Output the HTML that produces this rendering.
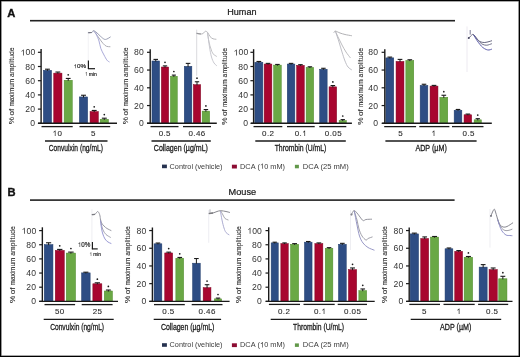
<!DOCTYPE html>
<html><head><meta charset="utf-8"><style>
html,body{margin:0;padding:0;background:#fff;width:520px;height:357px;overflow:hidden}
.frame{position:absolute;left:0;top:0;width:520px;height:357px;box-sizing:border-box;border:1px solid #000;box-shadow:inset 0 0 0 0.6px #555}
</style></head><body>
<svg width="520" height="357" viewBox="0 0 520 357" style="display:block;will-change:transform">
<g font-family='"Liberation Sans", sans-serif'>
<rect x="0.00" y="0.00" width="520.00" height="357.00" fill="#ffffff"/>
<text x="7.3" y="16.7" font-size="11.2" text-anchor="start" fill="#111" font-weight="bold" stroke="#111" stroke-width="0.35">A</text>
<text x="227.3" y="15.45" font-size="9.0" text-anchor="start" fill="#1a1a1a" font-weight="normal" textLength="29.2" lengthAdjust="spacingAndGlyphs" stroke="#1a1a1a" stroke-width="0.2">Human</text>
<rect x="30.00" y="19.90" width="425.00" height="1.60" fill="#222"/>
<text x="7.5" y="196.4" font-size="11.2" text-anchor="start" fill="#111" font-weight="bold" stroke="#111" stroke-width="0.35">B</text>
<text x="228.6" y="194.8" font-size="9.0" text-anchor="start" fill="#1a1a1a" font-weight="normal" textLength="27.6" lengthAdjust="spacingAndGlyphs" stroke="#1a1a1a" stroke-width="0.2">Mouse</text>
<rect x="30.00" y="199.30" width="424.60" height="1.60" fill="#222"/>
<rect x="43.35" y="70.30" width="8.20" height="53.00" fill="#2e4d84" stroke="#213d6c" stroke-width="0.5"/>
<line x1="47.45" y1="69.20" x2="47.45" y2="70.85" stroke="#1a1a1a" stroke-width="1.0"/>
<line x1="45.01" y1="69.20" x2="49.89" y2="69.20" stroke="#1a1a1a" stroke-width="1.1"/>
<rect x="53.75" y="73.14" width="8.20" height="50.16" fill="#a8062f" stroke="#7e0522" stroke-width="0.5"/>
<line x1="57.85" y1="72.04" x2="57.85" y2="73.69" stroke="#1a1a1a" stroke-width="1.0"/>
<line x1="55.41" y1="72.04" x2="60.29" y2="72.04" stroke="#1a1a1a" stroke-width="1.1"/>
<rect x="64.15" y="80.24" width="8.10" height="43.06" fill="#6aa845" stroke="#4f8a2a" stroke-width="0.5"/>
<line x1="68.20" y1="78.43" x2="68.20" y2="80.79" stroke="#1a1a1a" stroke-width="1.0"/>
<line x1="65.79" y1="78.43" x2="70.61" y2="78.43" stroke="#1a1a1a" stroke-width="1.1"/>
<circle cx="68.20" cy="74.83" r="0.85" fill="#1a1a1a"/>
<rect x="79.35" y="96.92" width="8.30" height="26.38" fill="#2e4d84" stroke="#213d6c" stroke-width="0.5"/>
<line x1="83.50" y1="95.25" x2="83.50" y2="97.47" stroke="#1a1a1a" stroke-width="1.0"/>
<line x1="81.04" y1="95.25" x2="85.96" y2="95.25" stroke="#1a1a1a" stroke-width="1.1"/>
<rect x="90.05" y="111.55" width="8.30" height="11.75" fill="#a8062f" stroke="#7e0522" stroke-width="0.5"/>
<line x1="94.20" y1="110.45" x2="94.20" y2="112.10" stroke="#1a1a1a" stroke-width="1.0"/>
<line x1="91.74" y1="110.45" x2="96.66" y2="110.45" stroke="#1a1a1a" stroke-width="1.1"/>
<circle cx="94.20" cy="106.85" r="0.85" fill="#1a1a1a"/>
<rect x="100.15" y="119.29" width="8.30" height="4.01" fill="#6aa845" stroke="#4f8a2a" stroke-width="0.5"/>
<line x1="104.30" y1="118.19" x2="104.30" y2="119.84" stroke="#1a1a1a" stroke-width="1.0"/>
<line x1="101.84" y1="118.19" x2="106.76" y2="118.19" stroke="#1a1a1a" stroke-width="1.1"/>
<circle cx="104.30" cy="114.59" r="0.85" fill="#1a1a1a"/>
<line x1="41.10" y1="49.00" x2="41.10" y2="124.00" stroke="#1a1a1a" stroke-width="1.4"/>
<line x1="37.90" y1="123.30" x2="41.10" y2="123.30" stroke="#1a1a1a" stroke-width="1.2"/>
<text x="35.2" y="126.39999999999999" font-size="8.6" text-anchor="end" fill="#333" font-weight="normal" letter-spacing="0.15">0</text>
<line x1="37.90" y1="109.10" x2="41.10" y2="109.10" stroke="#1a1a1a" stroke-width="1.2"/>
<text x="35.2" y="112.19999999999999" font-size="8.6" text-anchor="end" fill="#333" font-weight="normal" letter-spacing="0.15">20</text>
<line x1="37.90" y1="94.90" x2="41.10" y2="94.90" stroke="#1a1a1a" stroke-width="1.2"/>
<text x="35.2" y="98.0" font-size="8.6" text-anchor="end" fill="#333" font-weight="normal" letter-spacing="0.15">40</text>
<line x1="37.90" y1="80.70" x2="41.10" y2="80.70" stroke="#1a1a1a" stroke-width="1.2"/>
<text x="35.2" y="83.8" font-size="8.6" text-anchor="end" fill="#333" font-weight="normal" letter-spacing="0.15">60</text>
<line x1="37.90" y1="66.50" x2="41.10" y2="66.50" stroke="#1a1a1a" stroke-width="1.2"/>
<text x="35.2" y="69.6" font-size="8.6" text-anchor="end" fill="#333" font-weight="normal" letter-spacing="0.15">80</text>
<line x1="37.90" y1="52.30" x2="41.10" y2="52.30" stroke="#1a1a1a" stroke-width="1.2"/>
<g transform="translate(20.55,55.4) scale(1.0000,1)" fill="#333"><text x="0.00 4.93 9.87" y="0" font-size="8.6"> 00</text><path transform="translate(0.00,0) scale(0.00420,-0.00404)" d="M763,0 L583,0 L583,1147 C540,1105 480,1062 412,1023 C345,983 282,952 222,930 L222,1104 C322,1151 410,1208 486,1276 C561,1343 615,1409 646,1472 L763,1472 Z"/></g>
<line x1="38.00" y1="123.30" x2="117.00" y2="123.30" stroke="#1a1a1a" stroke-width="1.4"/>
<line x1="41.50" y1="126.60" x2="72.70" y2="126.60" stroke="#1a1a1a" stroke-width="1.3"/>
<g transform="translate(52.55,136.1) scale(1.0000,1)" fill="#2a2a2a" stroke="#2a2a2a" stroke-width="0.1"><text x="0.00 4.85" y="0" font-size="8.0"> 0</text><path transform="translate(0.00,0) scale(0.00391,-0.00376)" d="M763,0 L583,0 L583,1147 C540,1105 480,1062 412,1023 C345,983 282,952 222,930 L222,1104 C322,1151 410,1208 486,1276 C561,1343 615,1409 646,1472 L763,1472 Z"/></g>
<line x1="79.50" y1="126.60" x2="110.20" y2="126.60" stroke="#1a1a1a" stroke-width="1.3"/>
<text x="93.4" y="136.1" font-size="8.0" text-anchor="middle" fill="#2a2a2a" font-weight="normal" letter-spacing="0.4" stroke="#2a2a2a" stroke-width="0.1">5</text>
<line x1="45.00" y1="141.00" x2="107.50" y2="141.00" stroke="#1a1a1a" stroke-width="1.35"/>
<text x="48.8" y="151.2" font-size="9.6" text-anchor="start" fill="#1a1a1a" font-weight="normal" textLength="54.10000000000001" lengthAdjust="spacingAndGlyphs" stroke="#1a1a1a" stroke-width="0.3">Convulxin (ng/mL)</text>
<text transform="translate(14.40,123.90) rotate(-90)" x="-0.30" y="0" font-size="8.1" fill="#2a2a2a" stroke="#2a2a2a" stroke-width="0.1" textLength="7.36" lengthAdjust="spacingAndGlyphs">%</text>
<text transform="translate(14.40,123.90) rotate(-90)" x="8.48" y="0" font-size="8.1" fill="#2a2a2a" stroke="#2a2a2a" stroke-width="0.1" textLength="6.76" lengthAdjust="spacingAndGlyphs">of</text>
<text transform="translate(14.40,123.90) rotate(-90)" x="17.36" y="0" font-size="8.1" fill="#2a2a2a" stroke="#2a2a2a" stroke-width="0.1" textLength="27.75" lengthAdjust="spacingAndGlyphs">maximum</text>
<text transform="translate(14.40,123.90) rotate(-90)" x="47.03" y="0" font-size="8.1" fill="#2a2a2a" stroke="#2a2a2a" stroke-width="0.1" textLength="29.47" lengthAdjust="spacingAndGlyphs">amplitude</text>
<rect x="151.95" y="60.98" width="7.60" height="62.32" fill="#2e4d84" stroke="#213d6c" stroke-width="0.5"/>
<line x1="155.75" y1="59.40" x2="155.75" y2="61.53" stroke="#1a1a1a" stroke-width="1.0"/>
<line x1="153.48" y1="59.40" x2="158.02" y2="59.40" stroke="#1a1a1a" stroke-width="1.1"/>
<rect x="161.35" y="67.02" width="7.30" height="56.28" fill="#a8062f" stroke="#7e0522" stroke-width="0.5"/>
<line x1="165.00" y1="65.88" x2="165.00" y2="67.57" stroke="#1a1a1a" stroke-width="1.0"/>
<line x1="162.82" y1="65.88" x2="167.18" y2="65.88" stroke="#1a1a1a" stroke-width="1.1"/>
<circle cx="165.00" cy="62.28" r="0.85" fill="#1a1a1a"/>
<rect x="170.45" y="76.25" width="6.80" height="47.05" fill="#6aa845" stroke="#4f8a2a" stroke-width="0.5"/>
<line x1="173.85" y1="75.11" x2="173.85" y2="76.80" stroke="#1a1a1a" stroke-width="1.0"/>
<line x1="171.81" y1="75.11" x2="175.89" y2="75.11" stroke="#1a1a1a" stroke-width="1.1"/>
<circle cx="173.85" cy="71.51" r="0.85" fill="#1a1a1a"/>
<rect x="184.25" y="66.31" width="7.60" height="56.99" fill="#2e4d84" stroke="#213d6c" stroke-width="0.5"/>
<line x1="188.05" y1="63.39" x2="188.05" y2="66.86" stroke="#1a1a1a" stroke-width="1.0"/>
<line x1="185.78" y1="63.39" x2="190.32" y2="63.39" stroke="#1a1a1a" stroke-width="1.1"/>
<rect x="193.35" y="84.68" width="7.30" height="38.62" fill="#a8062f" stroke="#7e0522" stroke-width="0.5"/>
<line x1="197.00" y1="81.77" x2="197.00" y2="85.23" stroke="#1a1a1a" stroke-width="1.0"/>
<line x1="194.82" y1="81.77" x2="199.18" y2="81.77" stroke="#1a1a1a" stroke-width="1.1"/>
<circle cx="197.00" cy="78.17" r="0.85" fill="#1a1a1a"/>
<rect x="202.15" y="111.12" width="7.50" height="12.17" fill="#6aa845" stroke="#4f8a2a" stroke-width="0.5"/>
<line x1="205.90" y1="109.54" x2="205.90" y2="111.67" stroke="#1a1a1a" stroke-width="1.0"/>
<line x1="203.66" y1="109.54" x2="208.14" y2="109.54" stroke="#1a1a1a" stroke-width="1.1"/>
<circle cx="205.90" cy="105.94" r="0.85" fill="#1a1a1a"/>
<line x1="150.20" y1="49.20" x2="150.20" y2="124.00" stroke="#1a1a1a" stroke-width="1.4"/>
<line x1="147.00" y1="123.30" x2="150.20" y2="123.30" stroke="#1a1a1a" stroke-width="1.2"/>
<text x="143.9" y="126.39999999999999" font-size="8.6" text-anchor="end" fill="#333" font-weight="normal" letter-spacing="0.15">0</text>
<line x1="147.00" y1="105.55" x2="150.20" y2="105.55" stroke="#1a1a1a" stroke-width="1.2"/>
<text x="143.9" y="108.64999999999999" font-size="8.6" text-anchor="end" fill="#333" font-weight="normal" letter-spacing="0.15">20</text>
<line x1="147.00" y1="87.80" x2="150.20" y2="87.80" stroke="#1a1a1a" stroke-width="1.2"/>
<text x="143.9" y="90.89999999999999" font-size="8.6" text-anchor="end" fill="#333" font-weight="normal" letter-spacing="0.15">40</text>
<line x1="147.00" y1="70.05" x2="150.20" y2="70.05" stroke="#1a1a1a" stroke-width="1.2"/>
<text x="143.9" y="73.14999999999999" font-size="8.6" text-anchor="end" fill="#333" font-weight="normal" letter-spacing="0.15">60</text>
<line x1="147.00" y1="52.30" x2="150.20" y2="52.30" stroke="#1a1a1a" stroke-width="1.2"/>
<text x="143.9" y="55.4" font-size="8.6" text-anchor="end" fill="#333" font-weight="normal" letter-spacing="0.15">80</text>
<line x1="147.00" y1="123.30" x2="216.80" y2="123.30" stroke="#1a1a1a" stroke-width="1.4"/>
<line x1="150.50" y1="126.60" x2="178.50" y2="126.60" stroke="#1a1a1a" stroke-width="1.3"/>
<text x="164.8" y="136.1" font-size="8.0" text-anchor="middle" fill="#2a2a2a" font-weight="normal" letter-spacing="0.4" stroke="#2a2a2a" stroke-width="0.1">0.5</text>
<line x1="183.00" y1="126.60" x2="211.00" y2="126.60" stroke="#1a1a1a" stroke-width="1.3"/>
<text x="197.0" y="136.1" font-size="8.0" text-anchor="middle" fill="#2a2a2a" font-weight="normal" letter-spacing="0.4" stroke="#2a2a2a" stroke-width="0.1">0.46</text>
<line x1="151.50" y1="141.00" x2="210.80" y2="141.00" stroke="#1a1a1a" stroke-width="1.35"/>
<text x="153.8" y="151.2" font-size="9.6" text-anchor="start" fill="#1a1a1a" font-weight="normal" textLength="54.099999999999994" lengthAdjust="spacingAndGlyphs" stroke="#1a1a1a" stroke-width="0.3">Collagen (µg/mL)</text>
<text transform="translate(128.10,123.90) rotate(-90)" x="-0.30" y="0" font-size="8.1" fill="#2a2a2a" stroke="#2a2a2a" stroke-width="0.1" textLength="7.36" lengthAdjust="spacingAndGlyphs">%</text>
<text transform="translate(128.10,123.90) rotate(-90)" x="8.48" y="0" font-size="8.1" fill="#2a2a2a" stroke="#2a2a2a" stroke-width="0.1" textLength="6.76" lengthAdjust="spacingAndGlyphs">of</text>
<text transform="translate(128.10,123.90) rotate(-90)" x="17.36" y="0" font-size="8.1" fill="#2a2a2a" stroke="#2a2a2a" stroke-width="0.1" textLength="27.75" lengthAdjust="spacingAndGlyphs">maximum</text>
<text transform="translate(128.10,123.90) rotate(-90)" x="47.03" y="0" font-size="8.1" fill="#2a2a2a" stroke="#2a2a2a" stroke-width="0.1" textLength="29.47" lengthAdjust="spacingAndGlyphs">amplitude</text>
<rect x="254.85" y="62.28" width="8.00" height="61.02" fill="#2e4d84" stroke="#213d6c" stroke-width="0.5"/>
<line x1="258.85" y1="61.46" x2="258.85" y2="62.83" stroke="#1a1a1a" stroke-width="1.0"/>
<line x1="256.47" y1="61.46" x2="261.23" y2="61.46" stroke="#1a1a1a" stroke-width="1.1"/>
<rect x="264.15" y="64.05" width="7.70" height="59.25" fill="#a8062f" stroke="#7e0522" stroke-width="0.5"/>
<line x1="268.00" y1="63.38" x2="268.00" y2="64.60" stroke="#1a1a1a" stroke-width="1.0"/>
<line x1="265.70" y1="63.38" x2="270.30" y2="63.38" stroke="#1a1a1a" stroke-width="1.1"/>
<rect x="273.65" y="65.12" width="7.60" height="58.18" fill="#6aa845" stroke="#4f8a2a" stroke-width="0.5"/>
<line x1="277.45" y1="64.44" x2="277.45" y2="65.67" stroke="#1a1a1a" stroke-width="1.0"/>
<line x1="275.18" y1="64.44" x2="279.72" y2="64.44" stroke="#1a1a1a" stroke-width="1.1"/>
<rect x="287.25" y="64.05" width="7.60" height="59.25" fill="#2e4d84" stroke="#213d6c" stroke-width="0.5"/>
<line x1="291.05" y1="63.38" x2="291.05" y2="64.60" stroke="#1a1a1a" stroke-width="1.0"/>
<line x1="288.78" y1="63.38" x2="293.32" y2="63.38" stroke="#1a1a1a" stroke-width="1.1"/>
<rect x="296.65" y="65.33" width="7.60" height="57.97" fill="#a8062f" stroke="#7e0522" stroke-width="0.5"/>
<line x1="300.45" y1="64.65" x2="300.45" y2="65.88" stroke="#1a1a1a" stroke-width="1.0"/>
<line x1="298.18" y1="64.65" x2="302.72" y2="64.65" stroke="#1a1a1a" stroke-width="1.1"/>
<rect x="306.15" y="67.46" width="7.50" height="55.84" fill="#6aa845" stroke="#4f8a2a" stroke-width="0.5"/>
<line x1="309.90" y1="66.78" x2="309.90" y2="68.01" stroke="#1a1a1a" stroke-width="1.0"/>
<line x1="307.66" y1="66.78" x2="312.14" y2="66.78" stroke="#1a1a1a" stroke-width="1.1"/>
<rect x="319.65" y="69.23" width="7.50" height="54.06" fill="#2e4d84" stroke="#213d6c" stroke-width="0.5"/>
<line x1="323.40" y1="68.28" x2="323.40" y2="69.78" stroke="#1a1a1a" stroke-width="1.0"/>
<line x1="321.16" y1="68.28" x2="325.64" y2="68.28" stroke="#1a1a1a" stroke-width="1.1"/>
<rect x="329.05" y="86.84" width="7.60" height="36.46" fill="#a8062f" stroke="#7e0522" stroke-width="0.5"/>
<line x1="332.85" y1="85.53" x2="332.85" y2="87.39" stroke="#1a1a1a" stroke-width="1.0"/>
<line x1="330.58" y1="85.53" x2="335.12" y2="85.53" stroke="#1a1a1a" stroke-width="1.1"/>
<circle cx="332.85" cy="81.93" r="0.85" fill="#1a1a1a"/>
<rect x="339.15" y="120.57" width="7.20" height="2.73" fill="#6aa845" stroke="#4f8a2a" stroke-width="0.5"/>
<line x1="342.75" y1="119.61" x2="342.75" y2="121.12" stroke="#1a1a1a" stroke-width="1.0"/>
<line x1="340.59" y1="119.61" x2="344.91" y2="119.61" stroke="#1a1a1a" stroke-width="1.1"/>
<circle cx="342.75" cy="116.01" r="0.85" fill="#1a1a1a"/>
<line x1="253.60" y1="49.20" x2="253.60" y2="124.00" stroke="#1a1a1a" stroke-width="1.4"/>
<line x1="250.40" y1="123.30" x2="253.60" y2="123.30" stroke="#1a1a1a" stroke-width="1.2"/>
<text x="248.2" y="126.39999999999999" font-size="8.6" text-anchor="end" fill="#333" font-weight="normal" letter-spacing="0.15">0</text>
<line x1="250.40" y1="109.10" x2="253.60" y2="109.10" stroke="#1a1a1a" stroke-width="1.2"/>
<text x="248.2" y="112.19999999999999" font-size="8.6" text-anchor="end" fill="#333" font-weight="normal" letter-spacing="0.15">20</text>
<line x1="250.40" y1="94.90" x2="253.60" y2="94.90" stroke="#1a1a1a" stroke-width="1.2"/>
<text x="248.2" y="98.0" font-size="8.6" text-anchor="end" fill="#333" font-weight="normal" letter-spacing="0.15">40</text>
<line x1="250.40" y1="80.70" x2="253.60" y2="80.70" stroke="#1a1a1a" stroke-width="1.2"/>
<text x="248.2" y="83.8" font-size="8.6" text-anchor="end" fill="#333" font-weight="normal" letter-spacing="0.15">60</text>
<line x1="250.40" y1="66.50" x2="253.60" y2="66.50" stroke="#1a1a1a" stroke-width="1.2"/>
<text x="248.2" y="69.6" font-size="8.6" text-anchor="end" fill="#333" font-weight="normal" letter-spacing="0.15">80</text>
<line x1="250.40" y1="52.30" x2="253.60" y2="52.30" stroke="#1a1a1a" stroke-width="1.2"/>
<g transform="translate(233.55,55.4) scale(1.0000,1)" fill="#333"><text x="0.00 4.93 9.87" y="0" font-size="8.6"> 00</text><path transform="translate(0.00,0) scale(0.00420,-0.00404)" d="M763,0 L583,0 L583,1147 C540,1105 480,1062 412,1023 C345,983 282,952 222,930 L222,1104 C322,1151 410,1208 486,1276 C561,1343 615,1409 646,1472 L763,1472 Z"/></g>
<line x1="251.00" y1="123.30" x2="351.90" y2="123.30" stroke="#1a1a1a" stroke-width="1.4"/>
<line x1="253.50" y1="126.60" x2="282.30" y2="126.60" stroke="#1a1a1a" stroke-width="1.3"/>
<text x="268.2" y="136.1" font-size="8.0" text-anchor="middle" fill="#2a2a2a" font-weight="normal" letter-spacing="0.4" stroke="#2a2a2a" stroke-width="0.1">0.2</text>
<line x1="287.00" y1="126.60" x2="314.70" y2="126.60" stroke="#1a1a1a" stroke-width="1.3"/>
<g transform="translate(294.64,136.1) scale(1.0000,1)" fill="#2a2a2a" stroke="#2a2a2a" stroke-width="0.1"><text x="0.00 4.85 7.47" y="0" font-size="8.0">0. </text><path transform="translate(7.47,0) scale(0.00391,-0.00376)" d="M763,0 L583,0 L583,1147 C540,1105 480,1062 412,1023 C345,983 282,952 222,930 L222,1104 C322,1151 410,1208 486,1276 C561,1343 615,1409 646,1472 L763,1472 Z"/></g>
<line x1="319.30" y1="126.60" x2="346.30" y2="126.60" stroke="#1a1a1a" stroke-width="1.3"/>
<text x="333.4" y="136.1" font-size="8.0" text-anchor="middle" fill="#2a2a2a" font-weight="normal" letter-spacing="0.4" stroke="#2a2a2a" stroke-width="0.1">0.05</text>
<line x1="255.30" y1="141.00" x2="345.80" y2="141.00" stroke="#1a1a1a" stroke-width="1.35"/>
<text x="274.7" y="151.2" font-size="9.6" text-anchor="start" fill="#1a1a1a" font-weight="normal" textLength="51.69999999999999" lengthAdjust="spacingAndGlyphs" stroke="#1a1a1a" stroke-width="0.3">Thrombin (U/mL)</text>
<text transform="translate(227.00,124.40) rotate(-90)" x="-0.30" y="0" font-size="8.1" fill="#2a2a2a" stroke="#2a2a2a" stroke-width="0.1" textLength="7.36" lengthAdjust="spacingAndGlyphs">%</text>
<text transform="translate(227.00,124.40) rotate(-90)" x="8.48" y="0" font-size="8.1" fill="#2a2a2a" stroke="#2a2a2a" stroke-width="0.1" textLength="6.76" lengthAdjust="spacingAndGlyphs">of</text>
<text transform="translate(227.00,124.40) rotate(-90)" x="17.36" y="0" font-size="8.1" fill="#2a2a2a" stroke="#2a2a2a" stroke-width="0.1" textLength="27.75" lengthAdjust="spacingAndGlyphs">maximum</text>
<text transform="translate(227.00,124.40) rotate(-90)" x="47.03" y="0" font-size="8.1" fill="#2a2a2a" stroke="#2a2a2a" stroke-width="0.1" textLength="29.47" lengthAdjust="spacingAndGlyphs">amplitude</text>
<rect x="385.85" y="57.88" width="7.90" height="65.42" fill="#2e4d84" stroke="#213d6c" stroke-width="0.5"/>
<line x1="389.80" y1="57.09" x2="389.80" y2="58.42" stroke="#1a1a1a" stroke-width="1.0"/>
<line x1="387.45" y1="57.09" x2="392.15" y2="57.09" stroke="#1a1a1a" stroke-width="1.1"/>
<rect x="396.05" y="61.42" width="7.90" height="61.88" fill="#a8062f" stroke="#7e0522" stroke-width="0.5"/>
<line x1="400.00" y1="59.40" x2="400.00" y2="61.97" stroke="#1a1a1a" stroke-width="1.0"/>
<line x1="397.65" y1="59.40" x2="402.35" y2="59.40" stroke="#1a1a1a" stroke-width="1.1"/>
<rect x="405.85" y="60.54" width="7.90" height="62.76" fill="#6aa845" stroke="#4f8a2a" stroke-width="0.5"/>
<line x1="409.80" y1="59.76" x2="409.80" y2="61.09" stroke="#1a1a1a" stroke-width="1.0"/>
<line x1="407.45" y1="59.76" x2="412.15" y2="59.76" stroke="#1a1a1a" stroke-width="1.1"/>
<rect x="420.15" y="85.39" width="7.70" height="37.91" fill="#2e4d84" stroke="#213d6c" stroke-width="0.5"/>
<line x1="424.00" y1="84.25" x2="424.00" y2="85.94" stroke="#1a1a1a" stroke-width="1.0"/>
<line x1="421.70" y1="84.25" x2="426.30" y2="84.25" stroke="#1a1a1a" stroke-width="1.1"/>
<rect x="430.05" y="86.10" width="7.90" height="37.20" fill="#a8062f" stroke="#7e0522" stroke-width="0.5"/>
<line x1="434.00" y1="85.40" x2="434.00" y2="86.65" stroke="#1a1a1a" stroke-width="1.0"/>
<line x1="431.65" y1="85.40" x2="436.35" y2="85.40" stroke="#1a1a1a" stroke-width="1.1"/>
<rect x="439.85" y="97.28" width="7.90" height="26.02" fill="#6aa845" stroke="#4f8a2a" stroke-width="0.5"/>
<line x1="443.80" y1="95.25" x2="443.80" y2="97.83" stroke="#1a1a1a" stroke-width="1.0"/>
<line x1="441.45" y1="95.25" x2="446.15" y2="95.25" stroke="#1a1a1a" stroke-width="1.1"/>
<circle cx="443.80" cy="91.66" r="0.85" fill="#1a1a1a"/>
<rect x="454.15" y="110.24" width="7.70" height="13.06" fill="#2e4d84" stroke="#213d6c" stroke-width="0.5"/>
<line x1="458.00" y1="109.45" x2="458.00" y2="110.79" stroke="#1a1a1a" stroke-width="1.0"/>
<line x1="455.70" y1="109.45" x2="460.30" y2="109.45" stroke="#1a1a1a" stroke-width="1.1"/>
<rect x="464.05" y="114.76" width="7.60" height="8.54" fill="#a8062f" stroke="#7e0522" stroke-width="0.5"/>
<line x1="467.85" y1="114.07" x2="467.85" y2="115.31" stroke="#1a1a1a" stroke-width="1.0"/>
<line x1="465.58" y1="114.07" x2="470.12" y2="114.07" stroke="#1a1a1a" stroke-width="1.1"/>
<rect x="474.15" y="119.82" width="7.20" height="3.48" fill="#6aa845" stroke="#4f8a2a" stroke-width="0.5"/>
<line x1="477.75" y1="118.68" x2="477.75" y2="120.37" stroke="#1a1a1a" stroke-width="1.0"/>
<line x1="475.59" y1="118.68" x2="479.91" y2="118.68" stroke="#1a1a1a" stroke-width="1.1"/>
<circle cx="477.75" cy="115.08" r="0.85" fill="#1a1a1a"/>
<line x1="384.80" y1="49.20" x2="384.80" y2="124.00" stroke="#1a1a1a" stroke-width="1.4"/>
<line x1="381.60" y1="123.30" x2="384.80" y2="123.30" stroke="#1a1a1a" stroke-width="1.2"/>
<text x="378.2" y="126.39999999999999" font-size="8.6" text-anchor="end" fill="#333" font-weight="normal" letter-spacing="0.15">0</text>
<line x1="381.60" y1="105.55" x2="384.80" y2="105.55" stroke="#1a1a1a" stroke-width="1.2"/>
<text x="378.2" y="108.64999999999999" font-size="8.6" text-anchor="end" fill="#333" font-weight="normal" letter-spacing="0.15">20</text>
<line x1="381.60" y1="87.80" x2="384.80" y2="87.80" stroke="#1a1a1a" stroke-width="1.2"/>
<text x="378.2" y="90.89999999999999" font-size="8.6" text-anchor="end" fill="#333" font-weight="normal" letter-spacing="0.15">40</text>
<line x1="381.60" y1="70.05" x2="384.80" y2="70.05" stroke="#1a1a1a" stroke-width="1.2"/>
<text x="378.2" y="73.14999999999999" font-size="8.6" text-anchor="end" fill="#333" font-weight="normal" letter-spacing="0.15">60</text>
<line x1="381.60" y1="52.30" x2="384.80" y2="52.30" stroke="#1a1a1a" stroke-width="1.2"/>
<text x="378.2" y="55.4" font-size="8.6" text-anchor="end" fill="#333" font-weight="normal" letter-spacing="0.15">80</text>
<line x1="382.20" y1="123.30" x2="491.80" y2="123.30" stroke="#1a1a1a" stroke-width="1.4"/>
<line x1="384.20" y1="126.60" x2="416.10" y2="126.60" stroke="#1a1a1a" stroke-width="1.3"/>
<text x="400.6" y="136.1" font-size="8.0" text-anchor="middle" fill="#2a2a2a" font-weight="normal" letter-spacing="0.4" stroke="#2a2a2a" stroke-width="0.1">5</text>
<line x1="419.30" y1="126.60" x2="449.40" y2="126.60" stroke="#1a1a1a" stroke-width="1.3"/>
<g transform="translate(431.38,136.1) scale(1.0000,1)" fill="#2a2a2a" stroke="#2a2a2a" stroke-width="0.1"><text x="0.00" y="0" font-size="8.0"> </text><path transform="translate(0.00,0) scale(0.00391,-0.00376)" d="M763,0 L583,0 L583,1147 C540,1105 480,1062 412,1023 C345,983 282,952 222,930 L222,1104 C322,1151 410,1208 486,1276 C561,1343 615,1409 646,1472 L763,1472 Z"/></g>
<line x1="452.00" y1="126.60" x2="483.50" y2="126.60" stroke="#1a1a1a" stroke-width="1.3"/>
<text x="468.7" y="136.1" font-size="8.0" text-anchor="middle" fill="#2a2a2a" font-weight="normal" letter-spacing="0.4" stroke="#2a2a2a" stroke-width="0.1">0.5</text>
<line x1="385.40" y1="141.00" x2="476.60" y2="141.00" stroke="#1a1a1a" stroke-width="1.35"/>
<text x="415.4" y="151.2" font-size="9.6" text-anchor="start" fill="#1a1a1a" font-weight="normal" textLength="31.400000000000034" lengthAdjust="spacingAndGlyphs" stroke="#1a1a1a" stroke-width="0.3">ADP (µM)</text>
<text transform="translate(362.60,124.40) rotate(-90)" x="-0.30" y="0" font-size="8.1" fill="#2a2a2a" stroke="#2a2a2a" stroke-width="0.1" textLength="7.36" lengthAdjust="spacingAndGlyphs">%</text>
<text transform="translate(362.60,124.40) rotate(-90)" x="8.48" y="0" font-size="8.1" fill="#2a2a2a" stroke="#2a2a2a" stroke-width="0.1" textLength="6.76" lengthAdjust="spacingAndGlyphs">of</text>
<text transform="translate(362.60,124.40) rotate(-90)" x="17.36" y="0" font-size="8.1" fill="#2a2a2a" stroke="#2a2a2a" stroke-width="0.1" textLength="27.75" lengthAdjust="spacingAndGlyphs">maximum</text>
<text transform="translate(362.60,124.40) rotate(-90)" x="47.03" y="0" font-size="8.1" fill="#2a2a2a" stroke="#2a2a2a" stroke-width="0.1" textLength="29.47" lengthAdjust="spacingAndGlyphs">amplitude</text>
<rect x="44.25" y="244.58" width="8.70" height="56.77" fill="#2e4d84" stroke="#213d6c" stroke-width="0.5"/>
<line x1="48.60" y1="242.77" x2="48.60" y2="245.13" stroke="#1a1a1a" stroke-width="1.0"/>
<line x1="46.02" y1="242.77" x2="51.18" y2="242.77" stroke="#1a1a1a" stroke-width="1.1"/>
<rect x="55.25" y="250.38" width="9.00" height="50.97" fill="#a8062f" stroke="#7e0522" stroke-width="0.5"/>
<line x1="59.75" y1="249.42" x2="59.75" y2="250.93" stroke="#1a1a1a" stroke-width="1.0"/>
<line x1="57.09" y1="249.42" x2="62.41" y2="249.42" stroke="#1a1a1a" stroke-width="1.1"/>
<circle cx="59.75" cy="245.82" r="0.85" fill="#1a1a1a"/>
<rect x="66.25" y="253.07" width="9.30" height="48.28" fill="#6aa845" stroke="#4f8a2a" stroke-width="0.5"/>
<line x1="70.90" y1="252.11" x2="70.90" y2="253.62" stroke="#1a1a1a" stroke-width="1.0"/>
<line x1="68.16" y1="252.11" x2="73.64" y2="252.11" stroke="#1a1a1a" stroke-width="1.1"/>
<circle cx="70.90" cy="248.51" r="0.85" fill="#1a1a1a"/>
<rect x="81.55" y="272.88" width="8.60" height="28.47" fill="#2e4d84" stroke="#213d6c" stroke-width="0.5"/>
<line x1="85.85" y1="272.20" x2="85.85" y2="273.43" stroke="#1a1a1a" stroke-width="1.0"/>
<line x1="83.30" y1="272.20" x2="88.40" y2="272.20" stroke="#1a1a1a" stroke-width="1.1"/>
<rect x="92.85" y="283.77" width="9.00" height="17.58" fill="#a8062f" stroke="#7e0522" stroke-width="0.5"/>
<line x1="97.35" y1="282.81" x2="97.35" y2="284.32" stroke="#1a1a1a" stroke-width="1.0"/>
<line x1="94.69" y1="282.81" x2="100.01" y2="282.81" stroke="#1a1a1a" stroke-width="1.1"/>
<circle cx="97.35" cy="279.21" r="0.85" fill="#1a1a1a"/>
<rect x="104.25" y="290.99" width="8.20" height="10.36" fill="#6aa845" stroke="#4f8a2a" stroke-width="0.5"/>
<line x1="108.35" y1="290.03" x2="108.35" y2="291.54" stroke="#1a1a1a" stroke-width="1.0"/>
<line x1="105.91" y1="290.03" x2="110.79" y2="290.03" stroke="#1a1a1a" stroke-width="1.1"/>
<circle cx="108.35" cy="286.43" r="0.85" fill="#1a1a1a"/>
<line x1="42.35" y1="227.30" x2="42.35" y2="302.05" stroke="#1a1a1a" stroke-width="1.4"/>
<line x1="39.15" y1="301.35" x2="42.35" y2="301.35" stroke="#1a1a1a" stroke-width="1.2"/>
<text x="36.2" y="304.45000000000005" font-size="8.6" text-anchor="end" fill="#333" font-weight="normal" letter-spacing="0.15">0</text>
<line x1="39.15" y1="287.20" x2="42.35" y2="287.20" stroke="#1a1a1a" stroke-width="1.2"/>
<text x="36.2" y="290.30000000000007" font-size="8.6" text-anchor="end" fill="#333" font-weight="normal" letter-spacing="0.15">20</text>
<line x1="39.15" y1="273.05" x2="42.35" y2="273.05" stroke="#1a1a1a" stroke-width="1.2"/>
<text x="36.2" y="276.15000000000003" font-size="8.6" text-anchor="end" fill="#333" font-weight="normal" letter-spacing="0.15">40</text>
<line x1="39.15" y1="258.90" x2="42.35" y2="258.90" stroke="#1a1a1a" stroke-width="1.2"/>
<text x="36.2" y="262.00000000000006" font-size="8.6" text-anchor="end" fill="#333" font-weight="normal" letter-spacing="0.15">60</text>
<line x1="39.15" y1="244.75" x2="42.35" y2="244.75" stroke="#1a1a1a" stroke-width="1.2"/>
<text x="36.2" y="247.85000000000002" font-size="8.6" text-anchor="end" fill="#333" font-weight="normal" letter-spacing="0.15">80</text>
<line x1="39.15" y1="230.60" x2="42.35" y2="230.60" stroke="#1a1a1a" stroke-width="1.2"/>
<g transform="translate(21.55,233.70000000000002) scale(1.0000,1)" fill="#333"><text x="0.00 4.93 9.87" y="0" font-size="8.6"> 00</text><path transform="translate(0.00,0) scale(0.00420,-0.00404)" d="M763,0 L583,0 L583,1147 C540,1105 480,1062 412,1023 C345,983 282,952 222,930 L222,1104 C322,1151 410,1208 486,1276 C561,1343 615,1409 646,1472 L763,1472 Z"/></g>
<line x1="39.30" y1="301.35" x2="118.00" y2="301.35" stroke="#1a1a1a" stroke-width="1.4"/>
<line x1="44.50" y1="304.60" x2="75.10" y2="304.60" stroke="#1a1a1a" stroke-width="1.3"/>
<text x="59.8" y="314.1" font-size="8.0" text-anchor="middle" fill="#2a2a2a" font-weight="normal" letter-spacing="0.4" stroke="#2a2a2a" stroke-width="0.1">50</text>
<line x1="81.70" y1="304.60" x2="112.60" y2="304.60" stroke="#1a1a1a" stroke-width="1.3"/>
<text x="97.5" y="314.1" font-size="8.0" text-anchor="middle" fill="#2a2a2a" font-weight="normal" letter-spacing="0.4" stroke="#2a2a2a" stroke-width="0.1">25</text>
<line x1="43.70" y1="319.30" x2="113.70" y2="319.30" stroke="#1a1a1a" stroke-width="1.35"/>
<text x="50.2" y="329.6" font-size="9.6" text-anchor="start" fill="#1a1a1a" font-weight="normal" textLength="53.89999999999999" lengthAdjust="spacingAndGlyphs" stroke="#1a1a1a" stroke-width="0.3">Convulxin (ng/mL)</text>
<text transform="translate(14.80,302.80) rotate(-90)" x="-0.30" y="0" font-size="8.1" fill="#2a2a2a" stroke="#2a2a2a" stroke-width="0.1" textLength="7.37" lengthAdjust="spacingAndGlyphs">%</text>
<text transform="translate(14.80,302.80) rotate(-90)" x="8.49" y="0" font-size="8.1" fill="#2a2a2a" stroke="#2a2a2a" stroke-width="0.1" textLength="6.76" lengthAdjust="spacingAndGlyphs">of</text>
<text transform="translate(14.80,302.80) rotate(-90)" x="17.39" y="0" font-size="8.1" fill="#2a2a2a" stroke="#2a2a2a" stroke-width="0.1" textLength="27.79" lengthAdjust="spacingAndGlyphs">maximum</text>
<text transform="translate(14.80,302.80) rotate(-90)" x="47.10" y="0" font-size="8.1" fill="#2a2a2a" stroke="#2a2a2a" stroke-width="0.1" textLength="29.50" lengthAdjust="spacingAndGlyphs">amplitude</text>
<rect x="154.05" y="243.81" width="7.80" height="57.54" fill="#2e4d84" stroke="#213d6c" stroke-width="0.5"/>
<line x1="157.95" y1="243.03" x2="157.95" y2="244.36" stroke="#1a1a1a" stroke-width="1.0"/>
<line x1="155.63" y1="243.03" x2="160.27" y2="243.03" stroke="#1a1a1a" stroke-width="1.1"/>
<rect x="164.75" y="252.93" width="7.90" height="48.43" fill="#a8062f" stroke="#7e0522" stroke-width="0.5"/>
<line x1="168.70" y1="252.14" x2="168.70" y2="253.48" stroke="#1a1a1a" stroke-width="1.0"/>
<line x1="166.35" y1="252.14" x2="171.05" y2="252.14" stroke="#1a1a1a" stroke-width="1.1"/>
<circle cx="168.70" cy="248.54" r="0.85" fill="#1a1a1a"/>
<rect x="175.85" y="258.24" width="7.80" height="43.12" fill="#6aa845" stroke="#4f8a2a" stroke-width="0.5"/>
<line x1="179.75" y1="257.45" x2="179.75" y2="258.79" stroke="#1a1a1a" stroke-width="1.0"/>
<line x1="177.43" y1="257.45" x2="182.07" y2="257.45" stroke="#1a1a1a" stroke-width="1.1"/>
<circle cx="179.75" cy="253.85" r="0.85" fill="#1a1a1a"/>
<rect x="192.55" y="263.19" width="7.70" height="38.16" fill="#2e4d84" stroke="#213d6c" stroke-width="0.5"/>
<line x1="196.40" y1="258.52" x2="196.40" y2="263.74" stroke="#1a1a1a" stroke-width="1.0"/>
<line x1="194.10" y1="258.52" x2="198.70" y2="258.52" stroke="#1a1a1a" stroke-width="1.1"/>
<rect x="203.15" y="287.62" width="7.80" height="13.73" fill="#a8062f" stroke="#7e0522" stroke-width="0.5"/>
<line x1="207.05" y1="284.71" x2="207.05" y2="288.17" stroke="#1a1a1a" stroke-width="1.0"/>
<line x1="204.73" y1="284.71" x2="209.37" y2="284.71" stroke="#1a1a1a" stroke-width="1.1"/>
<circle cx="207.05" cy="281.11" r="0.85" fill="#1a1a1a"/>
<rect x="214.35" y="298.86" width="7.30" height="2.49" fill="#6aa845" stroke="#4f8a2a" stroke-width="0.5"/>
<line x1="218.00" y1="298.08" x2="218.00" y2="299.41" stroke="#1a1a1a" stroke-width="1.0"/>
<line x1="215.82" y1="298.08" x2="220.18" y2="298.08" stroke="#1a1a1a" stroke-width="1.1"/>
<circle cx="218.00" cy="294.48" r="0.85" fill="#1a1a1a"/>
<line x1="152.40" y1="227.50" x2="152.40" y2="302.05" stroke="#1a1a1a" stroke-width="1.4"/>
<line x1="149.20" y1="301.35" x2="152.40" y2="301.35" stroke="#1a1a1a" stroke-width="1.2"/>
<text x="146.4" y="304.45000000000005" font-size="8.6" text-anchor="end" fill="#333" font-weight="normal" letter-spacing="0.15">0</text>
<line x1="149.20" y1="283.65" x2="152.40" y2="283.65" stroke="#1a1a1a" stroke-width="1.2"/>
<text x="146.4" y="286.75000000000006" font-size="8.6" text-anchor="end" fill="#333" font-weight="normal" letter-spacing="0.15">20</text>
<line x1="149.20" y1="265.95" x2="152.40" y2="265.95" stroke="#1a1a1a" stroke-width="1.2"/>
<text x="146.4" y="269.05000000000007" font-size="8.6" text-anchor="end" fill="#333" font-weight="normal" letter-spacing="0.15">40</text>
<line x1="149.20" y1="248.25" x2="152.40" y2="248.25" stroke="#1a1a1a" stroke-width="1.2"/>
<text x="146.4" y="251.35000000000002" font-size="8.6" text-anchor="end" fill="#333" font-weight="normal" letter-spacing="0.15">60</text>
<line x1="149.20" y1="230.55" x2="152.40" y2="230.55" stroke="#1a1a1a" stroke-width="1.2"/>
<text x="146.4" y="233.65" font-size="8.6" text-anchor="end" fill="#333" font-weight="normal" letter-spacing="0.15">80</text>
<line x1="149.50" y1="301.35" x2="229.60" y2="301.35" stroke="#1a1a1a" stroke-width="1.4"/>
<line x1="154.00" y1="304.60" x2="184.80" y2="304.60" stroke="#1a1a1a" stroke-width="1.3"/>
<text x="168.5" y="314.1" font-size="8.0" text-anchor="middle" fill="#2a2a2a" font-weight="normal" letter-spacing="0.4" stroke="#2a2a2a" stroke-width="0.1">0.5</text>
<line x1="191.70" y1="304.60" x2="222.50" y2="304.60" stroke="#1a1a1a" stroke-width="1.3"/>
<text x="207.2" y="314.1" font-size="8.0" text-anchor="middle" fill="#2a2a2a" font-weight="normal" letter-spacing="0.4" stroke="#2a2a2a" stroke-width="0.1">0.46</text>
<line x1="153.70" y1="319.30" x2="221.10" y2="319.30" stroke="#1a1a1a" stroke-width="1.35"/>
<text x="160.9" y="329.6" font-size="9.6" text-anchor="start" fill="#1a1a1a" font-weight="normal" textLength="53.5" lengthAdjust="spacingAndGlyphs" stroke="#1a1a1a" stroke-width="0.3">Collagen (µg/mL)</text>
<text transform="translate(130.00,302.80) rotate(-90)" x="-0.30" y="0" font-size="8.1" fill="#2a2a2a" stroke="#2a2a2a" stroke-width="0.1" textLength="7.37" lengthAdjust="spacingAndGlyphs">%</text>
<text transform="translate(130.00,302.80) rotate(-90)" x="8.49" y="0" font-size="8.1" fill="#2a2a2a" stroke="#2a2a2a" stroke-width="0.1" textLength="6.76" lengthAdjust="spacingAndGlyphs">of</text>
<text transform="translate(130.00,302.80) rotate(-90)" x="17.39" y="0" font-size="8.1" fill="#2a2a2a" stroke="#2a2a2a" stroke-width="0.1" textLength="27.79" lengthAdjust="spacingAndGlyphs">maximum</text>
<text transform="translate(130.00,302.80) rotate(-90)" x="47.10" y="0" font-size="8.1" fill="#2a2a2a" stroke="#2a2a2a" stroke-width="0.1" textLength="29.50" lengthAdjust="spacingAndGlyphs">amplitude</text>
<rect x="271.15" y="242.88" width="7.10" height="58.47" fill="#2e4d84" stroke="#213d6c" stroke-width="0.5"/>
<line x1="274.70" y1="242.20" x2="274.70" y2="243.43" stroke="#1a1a1a" stroke-width="1.0"/>
<line x1="272.57" y1="242.20" x2="276.83" y2="242.20" stroke="#1a1a1a" stroke-width="1.1"/>
<rect x="280.85" y="243.59" width="7.40" height="57.76" fill="#a8062f" stroke="#7e0522" stroke-width="0.5"/>
<line x1="284.55" y1="242.91" x2="284.55" y2="244.14" stroke="#1a1a1a" stroke-width="1.0"/>
<line x1="282.34" y1="242.91" x2="286.76" y2="242.91" stroke="#1a1a1a" stroke-width="1.1"/>
<rect x="290.55" y="244.29" width="8.10" height="57.06" fill="#6aa845" stroke="#4f8a2a" stroke-width="0.5"/>
<line x1="294.60" y1="243.62" x2="294.60" y2="244.84" stroke="#1a1a1a" stroke-width="1.0"/>
<line x1="292.19" y1="243.62" x2="297.01" y2="243.62" stroke="#1a1a1a" stroke-width="1.1"/>
<rect x="304.45" y="242.17" width="7.60" height="59.18" fill="#2e4d84" stroke="#213d6c" stroke-width="0.5"/>
<line x1="308.25" y1="241.50" x2="308.25" y2="242.72" stroke="#1a1a1a" stroke-width="1.0"/>
<line x1="305.98" y1="241.50" x2="310.52" y2="241.50" stroke="#1a1a1a" stroke-width="1.1"/>
<rect x="314.85" y="243.59" width="8.00" height="57.76" fill="#a8062f" stroke="#7e0522" stroke-width="0.5"/>
<line x1="318.85" y1="242.91" x2="318.85" y2="244.14" stroke="#1a1a1a" stroke-width="1.0"/>
<line x1="316.47" y1="242.91" x2="321.23" y2="242.91" stroke="#1a1a1a" stroke-width="1.1"/>
<rect x="325.25" y="248.33" width="7.60" height="53.02" fill="#6aa845" stroke="#4f8a2a" stroke-width="0.5"/>
<line x1="329.05" y1="247.65" x2="329.05" y2="248.88" stroke="#1a1a1a" stroke-width="1.0"/>
<line x1="326.78" y1="247.65" x2="331.32" y2="247.65" stroke="#1a1a1a" stroke-width="1.1"/>
<rect x="338.45" y="244.29" width="7.80" height="57.06" fill="#2e4d84" stroke="#213d6c" stroke-width="0.5"/>
<line x1="342.35" y1="243.34" x2="342.35" y2="244.84" stroke="#1a1a1a" stroke-width="1.0"/>
<line x1="340.03" y1="243.34" x2="344.67" y2="243.34" stroke="#1a1a1a" stroke-width="1.1"/>
<rect x="348.45" y="269.62" width="8.20" height="31.73" fill="#a8062f" stroke="#7e0522" stroke-width="0.5"/>
<line x1="352.55" y1="267.96" x2="352.55" y2="270.17" stroke="#1a1a1a" stroke-width="1.0"/>
<line x1="350.11" y1="267.96" x2="354.99" y2="267.96" stroke="#1a1a1a" stroke-width="1.1"/>
<circle cx="352.55" cy="264.36" r="0.85" fill="#1a1a1a"/>
<rect x="358.85" y="290.63" width="7.80" height="10.72" fill="#6aa845" stroke="#4f8a2a" stroke-width="0.5"/>
<line x1="362.75" y1="288.97" x2="362.75" y2="291.18" stroke="#1a1a1a" stroke-width="1.0"/>
<line x1="360.43" y1="288.97" x2="365.07" y2="288.97" stroke="#1a1a1a" stroke-width="1.1"/>
<circle cx="362.75" cy="285.37" r="0.85" fill="#1a1a1a"/>
<line x1="268.70" y1="227.30" x2="268.70" y2="302.05" stroke="#1a1a1a" stroke-width="1.4"/>
<line x1="265.50" y1="301.35" x2="268.70" y2="301.35" stroke="#1a1a1a" stroke-width="1.2"/>
<text x="261.9" y="304.45000000000005" font-size="8.6" text-anchor="end" fill="#333" font-weight="normal" letter-spacing="0.15">0</text>
<line x1="265.50" y1="287.20" x2="268.70" y2="287.20" stroke="#1a1a1a" stroke-width="1.2"/>
<text x="261.9" y="290.30000000000007" font-size="8.6" text-anchor="end" fill="#333" font-weight="normal" letter-spacing="0.15">20</text>
<line x1="265.50" y1="273.05" x2="268.70" y2="273.05" stroke="#1a1a1a" stroke-width="1.2"/>
<text x="261.9" y="276.15000000000003" font-size="8.6" text-anchor="end" fill="#333" font-weight="normal" letter-spacing="0.15">40</text>
<line x1="265.50" y1="258.90" x2="268.70" y2="258.90" stroke="#1a1a1a" stroke-width="1.2"/>
<text x="261.9" y="262.00000000000006" font-size="8.6" text-anchor="end" fill="#333" font-weight="normal" letter-spacing="0.15">60</text>
<line x1="265.50" y1="244.75" x2="268.70" y2="244.75" stroke="#1a1a1a" stroke-width="1.2"/>
<text x="261.9" y="247.85000000000002" font-size="8.6" text-anchor="end" fill="#333" font-weight="normal" letter-spacing="0.15">80</text>
<line x1="265.50" y1="230.60" x2="268.70" y2="230.60" stroke="#1a1a1a" stroke-width="1.2"/>
<g transform="translate(247.25,233.70000000000002) scale(1.0000,1)" fill="#333"><text x="0.00 4.93 9.87" y="0" font-size="8.6"> 00</text><path transform="translate(0.00,0) scale(0.00420,-0.00404)" d="M763,0 L583,0 L583,1147 C540,1105 480,1062 412,1023 C345,983 282,952 222,930 L222,1104 C322,1151 410,1208 486,1276 C561,1343 615,1409 646,1472 L763,1472 Z"/></g>
<line x1="265.80" y1="301.35" x2="374.70" y2="301.35" stroke="#1a1a1a" stroke-width="1.4"/>
<line x1="268.90" y1="304.40" x2="300.00" y2="304.40" stroke="#1a1a1a" stroke-width="1.3"/>
<text x="284.1" y="314.1" font-size="8.0" text-anchor="middle" fill="#2a2a2a" font-weight="normal" letter-spacing="0.4" stroke="#2a2a2a" stroke-width="0.1">0.2</text>
<line x1="303.50" y1="304.40" x2="334.70" y2="304.40" stroke="#1a1a1a" stroke-width="1.3"/>
<g transform="translate(313.94,314.1) scale(1.0000,1)" fill="#2a2a2a" stroke="#2a2a2a" stroke-width="0.1"><text x="0.00 4.85 7.47" y="0" font-size="8.0">0. </text><path transform="translate(7.47,0) scale(0.00391,-0.00376)" d="M763,0 L583,0 L583,1147 C540,1105 480,1062 412,1023 C345,983 282,952 222,930 L222,1104 C322,1151 410,1208 486,1276 C561,1343 615,1409 646,1472 L763,1472 Z"/></g>
<line x1="337.70" y1="304.40" x2="367.00" y2="304.40" stroke="#1a1a1a" stroke-width="1.3"/>
<text x="352.7" y="314.1" font-size="8.0" text-anchor="middle" fill="#2a2a2a" font-weight="normal" letter-spacing="0.4" stroke="#2a2a2a" stroke-width="0.1">0.05</text>
<line x1="270.70" y1="319.30" x2="367.00" y2="319.30" stroke="#1a1a1a" stroke-width="1.35"/>
<text x="293.1" y="329.6" font-size="9.6" text-anchor="start" fill="#1a1a1a" font-weight="normal" textLength="51.0" lengthAdjust="spacingAndGlyphs" stroke="#1a1a1a" stroke-width="0.3">Thrombin (U/mL)</text>
<text transform="translate(240.60,302.80) rotate(-90)" x="-0.30" y="0" font-size="8.1" fill="#2a2a2a" stroke="#2a2a2a" stroke-width="0.1" textLength="7.37" lengthAdjust="spacingAndGlyphs">%</text>
<text transform="translate(240.60,302.80) rotate(-90)" x="8.49" y="0" font-size="8.1" fill="#2a2a2a" stroke="#2a2a2a" stroke-width="0.1" textLength="6.76" lengthAdjust="spacingAndGlyphs">of</text>
<text transform="translate(240.60,302.80) rotate(-90)" x="17.39" y="0" font-size="8.1" fill="#2a2a2a" stroke="#2a2a2a" stroke-width="0.1" textLength="27.79" lengthAdjust="spacingAndGlyphs">maximum</text>
<text transform="translate(240.60,302.80) rotate(-90)" x="47.10" y="0" font-size="8.1" fill="#2a2a2a" stroke="#2a2a2a" stroke-width="0.1" textLength="29.50" lengthAdjust="spacingAndGlyphs">amplitude</text>
<rect x="410.15" y="233.90" width="8.40" height="67.45" fill="#2e4d84" stroke="#213d6c" stroke-width="0.5"/>
<line x1="414.35" y1="233.12" x2="414.35" y2="234.45" stroke="#1a1a1a" stroke-width="1.0"/>
<line x1="411.86" y1="233.12" x2="416.84" y2="233.12" stroke="#1a1a1a" stroke-width="1.1"/>
<rect x="420.75" y="238.50" width="7.90" height="62.85" fill="#a8062f" stroke="#7e0522" stroke-width="0.5"/>
<line x1="424.70" y1="236.92" x2="424.70" y2="239.05" stroke="#1a1a1a" stroke-width="1.0"/>
<line x1="422.35" y1="236.92" x2="427.05" y2="236.92" stroke="#1a1a1a" stroke-width="1.1"/>
<rect x="430.45" y="237.08" width="8.20" height="64.27" fill="#6aa845" stroke="#4f8a2a" stroke-width="0.5"/>
<line x1="434.55" y1="236.48" x2="434.55" y2="237.63" stroke="#1a1a1a" stroke-width="1.0"/>
<line x1="432.11" y1="236.48" x2="436.99" y2="236.48" stroke="#1a1a1a" stroke-width="1.1"/>
<rect x="445.05" y="248.77" width="7.80" height="52.58" fill="#2e4d84" stroke="#213d6c" stroke-width="0.5"/>
<line x1="448.95" y1="247.98" x2="448.95" y2="249.32" stroke="#1a1a1a" stroke-width="1.0"/>
<line x1="446.63" y1="247.98" x2="451.27" y2="247.98" stroke="#1a1a1a" stroke-width="1.1"/>
<rect x="454.75" y="251.33" width="7.80" height="50.02" fill="#a8062f" stroke="#7e0522" stroke-width="0.5"/>
<line x1="458.65" y1="250.55" x2="458.65" y2="251.88" stroke="#1a1a1a" stroke-width="1.0"/>
<line x1="456.33" y1="250.55" x2="460.97" y2="250.55" stroke="#1a1a1a" stroke-width="1.1"/>
<rect x="464.15" y="257.26" width="8.50" height="44.09" fill="#6aa845" stroke="#4f8a2a" stroke-width="0.5"/>
<line x1="468.40" y1="256.48" x2="468.40" y2="257.81" stroke="#1a1a1a" stroke-width="1.0"/>
<line x1="465.88" y1="256.48" x2="470.92" y2="256.48" stroke="#1a1a1a" stroke-width="1.1"/>
<circle cx="468.40" cy="252.88" r="0.85" fill="#1a1a1a"/>
<rect x="479.15" y="267.09" width="8.00" height="34.26" fill="#2e4d84" stroke="#213d6c" stroke-width="0.5"/>
<line x1="483.15" y1="264.62" x2="483.15" y2="267.64" stroke="#1a1a1a" stroke-width="1.0"/>
<line x1="480.77" y1="264.62" x2="485.53" y2="264.62" stroke="#1a1a1a" stroke-width="1.1"/>
<rect x="489.05" y="269.56" width="8.20" height="31.79" fill="#a8062f" stroke="#7e0522" stroke-width="0.5"/>
<line x1="493.15" y1="267.99" x2="493.15" y2="270.11" stroke="#1a1a1a" stroke-width="1.0"/>
<line x1="490.71" y1="267.99" x2="495.59" y2="267.99" stroke="#1a1a1a" stroke-width="1.1"/>
<rect x="498.75" y="278.77" width="8.20" height="22.58" fill="#6aa845" stroke="#4f8a2a" stroke-width="0.5"/>
<line x1="502.85" y1="276.30" x2="502.85" y2="279.32" stroke="#1a1a1a" stroke-width="1.0"/>
<line x1="500.41" y1="276.30" x2="505.29" y2="276.30" stroke="#1a1a1a" stroke-width="1.1"/>
<circle cx="502.85" cy="272.70" r="0.85" fill="#1a1a1a"/>
<line x1="409.20" y1="227.50" x2="409.20" y2="302.05" stroke="#1a1a1a" stroke-width="1.4"/>
<line x1="406.00" y1="301.35" x2="409.20" y2="301.35" stroke="#1a1a1a" stroke-width="1.2"/>
<text x="403.4" y="304.45000000000005" font-size="8.6" text-anchor="end" fill="#333" font-weight="normal" letter-spacing="0.15">0</text>
<line x1="406.00" y1="283.65" x2="409.20" y2="283.65" stroke="#1a1a1a" stroke-width="1.2"/>
<text x="403.4" y="286.75000000000006" font-size="8.6" text-anchor="end" fill="#333" font-weight="normal" letter-spacing="0.15">20</text>
<line x1="406.00" y1="265.95" x2="409.20" y2="265.95" stroke="#1a1a1a" stroke-width="1.2"/>
<text x="403.4" y="269.05000000000007" font-size="8.6" text-anchor="end" fill="#333" font-weight="normal" letter-spacing="0.15">40</text>
<line x1="406.00" y1="248.25" x2="409.20" y2="248.25" stroke="#1a1a1a" stroke-width="1.2"/>
<text x="403.4" y="251.35000000000002" font-size="8.6" text-anchor="end" fill="#333" font-weight="normal" letter-spacing="0.15">60</text>
<line x1="406.00" y1="230.55" x2="409.20" y2="230.55" stroke="#1a1a1a" stroke-width="1.2"/>
<text x="403.4" y="233.65" font-size="8.6" text-anchor="end" fill="#333" font-weight="normal" letter-spacing="0.15">80</text>
<line x1="406.40" y1="301.35" x2="512.50" y2="301.35" stroke="#1a1a1a" stroke-width="1.4"/>
<line x1="409.30" y1="304.40" x2="440.00" y2="304.40" stroke="#1a1a1a" stroke-width="1.3"/>
<text x="424.5" y="314.1" font-size="8.0" text-anchor="middle" fill="#2a2a2a" font-weight="normal" letter-spacing="0.4" stroke="#2a2a2a" stroke-width="0.1">5</text>
<line x1="443.50" y1="304.40" x2="474.70" y2="304.40" stroke="#1a1a1a" stroke-width="1.3"/>
<g transform="translate(456.48,314.1) scale(1.0000,1)" fill="#2a2a2a" stroke="#2a2a2a" stroke-width="0.1"><text x="0.00" y="0" font-size="8.0"> </text><path transform="translate(0.00,0) scale(0.00391,-0.00376)" d="M763,0 L583,0 L583,1147 C540,1105 480,1062 412,1023 C345,983 282,952 222,930 L222,1104 C322,1151 410,1208 486,1276 C561,1343 615,1409 646,1472 L763,1472 Z"/></g>
<line x1="478.10" y1="304.40" x2="508.20" y2="304.40" stroke="#1a1a1a" stroke-width="1.3"/>
<text x="492.2" y="314.1" font-size="8.0" text-anchor="middle" fill="#2a2a2a" font-weight="normal" letter-spacing="0.4" stroke="#2a2a2a" stroke-width="0.1">0.5</text>
<line x1="410.70" y1="319.30" x2="501.20" y2="319.30" stroke="#1a1a1a" stroke-width="1.35"/>
<text x="440.0" y="329.6" font-size="9.6" text-anchor="start" fill="#1a1a1a" font-weight="normal" textLength="31.399999999999977" lengthAdjust="spacingAndGlyphs" stroke="#1a1a1a" stroke-width="0.3">ADP (µM)</text>
<text transform="translate(387.00,302.80) rotate(-90)" x="-0.30" y="0" font-size="8.1" fill="#2a2a2a" stroke="#2a2a2a" stroke-width="0.1" textLength="7.37" lengthAdjust="spacingAndGlyphs">%</text>
<text transform="translate(387.00,302.80) rotate(-90)" x="8.49" y="0" font-size="8.1" fill="#2a2a2a" stroke="#2a2a2a" stroke-width="0.1" textLength="6.76" lengthAdjust="spacingAndGlyphs">of</text>
<text transform="translate(387.00,302.80) rotate(-90)" x="17.39" y="0" font-size="8.1" fill="#2a2a2a" stroke="#2a2a2a" stroke-width="0.1" textLength="27.79" lengthAdjust="spacingAndGlyphs">maximum</text>
<text transform="translate(387.00,302.80) rotate(-90)" x="47.10" y="0" font-size="8.1" fill="#2a2a2a" stroke="#2a2a2a" stroke-width="0.1" textLength="29.50" lengthAdjust="spacingAndGlyphs">amplitude</text>
<rect x="162.00" y="164.60" width="4.90" height="3.60" fill="#26324f"/>
<text x="169.6" y="168.8" font-size="7.8" text-anchor="start" fill="#3a3a3a" font-weight="normal" textLength="52.9" lengthAdjust="spacingAndGlyphs">Control (vehicle)</text>
<rect x="231.90" y="164.70" width="5.00" height="3.80" fill="#8c0c32"/>
<g transform="translate(240.00,168.8) scale(0.9440,1)" fill="#3a3a3a"><text x="0.00 5.63 11.27 16.47 18.64 21.23 25.57 29.91 32.08 38.57 45.07" y="0" font-size="7.8">DCA ( 0 mM)</text><path transform="translate(21.23,0) scale(0.00381,-0.00366)" d="M763,0 L583,0 L583,1147 C540,1105 480,1062 412,1023 C345,983 282,952 222,930 L222,1104 C322,1151 410,1208 486,1276 C561,1343 615,1409 646,1472 L763,1472 Z"/></g>
<rect x="294.90" y="164.80" width="4.00" height="3.50" fill="#62984a"/>
<text x="302.7" y="168.8" font-size="7.8" text-anchor="start" fill="#3a3a3a" font-weight="normal" textLength="46.0" lengthAdjust="spacingAndGlyphs">DCA (25 mM)</text>
<rect x="162.00" y="343.20" width="4.90" height="3.60" fill="#26324f"/>
<text x="169.6" y="347.4" font-size="7.8" text-anchor="start" fill="#3a3a3a" font-weight="normal" textLength="52.9" lengthAdjust="spacingAndGlyphs">Control (vehicle)</text>
<rect x="231.90" y="343.30" width="5.00" height="3.80" fill="#8c0c32"/>
<g transform="translate(240.00,347.4) scale(0.9440,1)" fill="#3a3a3a"><text x="0.00 5.63 11.27 16.47 18.64 21.23 25.57 29.91 32.08 38.57 45.07" y="0" font-size="7.8">DCA ( 0 mM)</text><path transform="translate(21.23,0) scale(0.00381,-0.00366)" d="M763,0 L583,0 L583,1147 C540,1105 480,1062 412,1023 C345,983 282,952 222,930 L222,1104 C322,1151 410,1208 486,1276 C561,1343 615,1409 646,1472 L763,1472 Z"/></g>
<rect x="294.90" y="343.40" width="4.00" height="3.50" fill="#62984a"/>
<text x="302.7" y="347.4" font-size="7.8" text-anchor="start" fill="#3a3a3a" font-weight="normal" textLength="46.0" lengthAdjust="spacingAndGlyphs">DCA (25 mM)</text>
<line x1="88.30" y1="31.60" x2="88.30" y2="61.00" stroke="#ececf0" stroke-width="0.7"/>
<path d="M88.30,32.70 C88.88,32.67 90.93,32.83 91.80,32.50 C92.67,32.17 92.80,30.78 93.50,30.70 C94.20,30.62 94.88,31.12 96.00,32.00 C97.12,32.88 98.83,34.80 100.20,36.00 C101.57,37.20 103.07,38.70 104.20,39.20 C105.33,39.70 105.98,39.37 107.00,39.00 C108.02,38.63 109.75,37.33 110.30,37.00" fill="none" stroke="#9296ae" stroke-width="0.9" stroke-linejoin="round" stroke-linecap="round"/>
<path d="M93.50,30.70 C93.75,31.00 94.08,31.28 95.00,32.50 C95.92,33.72 97.67,36.18 99.00,38.00 C100.33,39.82 101.75,42.02 103.00,43.40 C104.25,44.78 105.33,45.75 106.50,46.30 C107.67,46.85 109.42,46.63 110.00,46.70" fill="none" stroke="#a4a4ac" stroke-width="0.9" stroke-linejoin="round" stroke-linecap="round"/>
<path d="M94.20,31.50 C94.52,31.92 95.30,32.42 96.10,34.00 C96.90,35.58 98.22,38.60 99.00,41.00 C99.78,43.40 99.97,46.07 100.80,48.40 C101.63,50.73 102.97,53.03 104.00,55.00 C105.03,56.97 106.13,59.07 107.00,60.20 C107.87,61.33 108.83,61.53 109.20,61.80" fill="none" stroke="#a0a0d4" stroke-width="0.9" stroke-linejoin="round" stroke-linecap="round"/>
<line x1="88.30" y1="32.60" x2="91.80" y2="32.50" stroke="#7a7a86" stroke-width="1.1"/>
<line x1="88.40" y1="60.40" x2="88.40" y2="69.00" stroke="#1a1a1a" stroke-width="1.2"/>
<line x1="87.90" y1="68.70" x2="95.00" y2="68.70" stroke="#1a1a1a" stroke-width="1.2"/>
<g transform="translate(73.60,68.2) scale(1.1242,1)" fill="#2a2a2a" stroke="#2a2a2a" stroke-width="0.2"><text x="0.00 3.11 6.23" y="0" font-size="5.6"> 0%</text><path transform="translate(0.00,0) scale(0.00273,-0.00263)" d="M763,0 L583,0 L583,1147 C540,1105 480,1062 412,1023 C345,983 282,952 222,930 L222,1104 C322,1151 410,1208 486,1276 C561,1343 615,1409 646,1472 L763,1472 Z"/></g>
<g transform="translate(84.80,75.7) scale(0.9386,1)" fill="#2a2a2a" stroke="#2a2a2a" stroke-width="0.2"><text x="0.00 3.00 4.08 8.58 9.78" y="0" font-size="5.4">  min</text><path transform="translate(0.00,0) scale(0.00264,-0.00254)" d="M763,0 L583,0 L583,1147 C540,1105 480,1062 412,1023 C345,983 282,952 222,930 L222,1104 C322,1151 410,1208 486,1276 C561,1343 615,1409 646,1472 L763,1472 Z"/></g>
<line x1="196.70" y1="29.70" x2="196.70" y2="75.80" stroke="#d6d6da" stroke-width="0.9"/>
<path d="M196.70,33.30 C197.25,33.42 198.95,33.95 200.00,34.00 C201.05,34.05 202.12,34.05 203.00,33.60 C203.88,33.15 204.53,31.50 205.30,31.30 C206.07,31.10 206.82,31.53 207.60,32.40 C208.38,33.27 209.10,35.43 210.00,36.50 C210.90,37.57 212.00,38.35 213.00,38.80 C214.00,39.25 215.50,39.13 216.00,39.20" fill="none" stroke="#b0b0b4" stroke-width="0.9" stroke-linejoin="round" stroke-linecap="round"/>
<line x1="196.70" y1="33.30" x2="201.00" y2="34.00" stroke="#98989c" stroke-width="1.2"/>
<path d="M207.40,32.60 C207.67,34.17 208.40,39.27 209.00,42.00 C209.60,44.73 210.33,47.03 211.00,49.00 C211.67,50.97 212.08,52.58 213.00,53.80 C213.92,55.02 215.92,55.88 216.50,56.30" fill="none" stroke="#bebec2" stroke-width="0.9" stroke-linejoin="round" stroke-linecap="round"/>
<path d="M207.80,34.00 C208.08,36.17 208.88,43.17 209.50,47.00 C210.12,50.83 210.75,54.33 211.50,57.00 C212.25,59.67 213.17,61.58 214.00,63.00 C214.83,64.42 216.08,65.08 216.50,65.50" fill="none" stroke="#c2c2ca" stroke-width="0.9" stroke-linejoin="round" stroke-linecap="round"/>
<path d="M334.00,32.50 C334.23,32.27 334.40,31.02 335.40,31.10 C336.40,31.18 338.40,32.43 340.00,33.00 C341.60,33.57 343.08,34.05 345.00,34.50 C346.92,34.95 350.42,35.50 351.50,35.70" fill="none" stroke="#a8a8ac" stroke-width="0.9" stroke-linejoin="round" stroke-linecap="round"/>
<path d="M335.40,31.30 C335.92,32.42 337.40,35.72 338.50,38.00 C339.60,40.28 340.75,42.67 342.00,45.00 C343.25,47.33 344.63,49.90 346.00,52.00 C347.37,54.10 349.50,56.67 350.20,57.60" fill="none" stroke="#b4b4b8" stroke-width="0.9" stroke-linejoin="round" stroke-linecap="round"/>
<path d="M335.60,31.60 C336.17,33.33 337.93,38.60 339.00,42.00 C340.07,45.40 341.00,48.83 342.00,52.00 C343.00,55.17 344.00,58.50 345.00,61.00 C346.00,63.50 346.92,65.55 348.00,67.00 C349.08,68.45 350.92,69.25 351.50,69.70" fill="none" stroke="#b8b8c0" stroke-width="0.9" stroke-linejoin="round" stroke-linecap="round"/>
<line x1="467.00" y1="26.40" x2="467.00" y2="72.00" stroke="#e8e4ee" stroke-width="0.8"/>
<line x1="470.20" y1="30.00" x2="470.20" y2="34.60" stroke="#6a6a88" stroke-width="0.9"/>
<path d="M468.70,38.00 C469.00,37.70 469.88,36.78 470.50,36.20 C471.12,35.62 471.88,34.77 472.40,34.50 C472.92,34.23 473.00,34.10 473.60,34.60 C474.20,35.10 475.20,36.53 476.00,37.50 C476.80,38.47 477.57,39.65 478.40,40.40 C479.23,41.15 479.93,41.65 481.00,42.00 C482.07,42.35 483.47,42.57 484.80,42.50 C486.13,42.43 487.87,41.88 489.00,41.60 C490.13,41.32 491.17,40.93 491.60,40.80" fill="none" stroke="#5e5e78" stroke-width="0.95" stroke-linejoin="round" stroke-linecap="round"/>
<path d="M473.60,34.80 C474.17,35.50 475.92,37.72 477.00,39.00 C478.08,40.28 479.10,41.58 480.10,42.50 C481.10,43.42 481.87,44.05 483.00,44.50 C484.13,44.95 485.48,45.32 486.90,45.20 C488.32,45.08 490.73,44.03 491.50,43.80" fill="none" stroke="#6a6a84" stroke-width="0.95" stroke-linejoin="round" stroke-linecap="round"/>
<path d="M473.80,35.20 C474.33,36.08 475.97,38.95 477.00,40.50 C478.03,42.05 479.03,43.33 480.00,44.50 C480.97,45.67 481.77,46.67 482.80,47.50 C483.83,48.33 485.17,49.08 486.20,49.50 C487.23,49.92 488.12,50.05 489.00,50.00 C489.88,49.95 491.08,49.33 491.50,49.20" fill="none" stroke="#5656a8" stroke-width="0.95" stroke-linejoin="round" stroke-linecap="round"/>
<circle cx="468.8" cy="38.0" r="1.0" fill="#44445e"/>
<line x1="91.90" y1="209.20" x2="91.90" y2="242.00" stroke="#e6e6ec" stroke-width="0.7"/>
<path d="M92.00,214.60 C92.50,214.55 94.08,214.82 95.00,214.30 C95.92,213.78 96.83,211.72 97.50,211.50 C98.17,211.28 98.58,212.25 99.00,213.00 C99.42,213.75 99.67,214.50 100.00,216.00 C100.33,217.50 100.33,220.33 101.00,222.00 C101.67,223.67 103.00,224.92 104.00,226.00 C105.00,227.08 105.83,227.75 107.00,228.50 C108.17,229.25 110.33,230.17 111.00,230.50" fill="none" stroke="#8e8e98" stroke-width="0.9" stroke-linejoin="round" stroke-linecap="round"/>
<line x1="92.00" y1="214.60" x2="95.00" y2="214.30" stroke="#7a7a80" stroke-width="1.2"/>
<path d="M100.70,220.00 C100.80,220.67 100.92,222.33 101.30,224.00 C101.68,225.67 102.22,228.25 103.00,230.00 C103.78,231.75 104.77,233.28 106.00,234.50 C107.23,235.72 109.67,236.83 110.40,237.30" fill="none" stroke="#9a9aa8" stroke-width="0.9" stroke-linejoin="round" stroke-linecap="round"/>
<path d="M100.60,221.00 C100.67,221.67 100.68,223.00 101.00,225.00 C101.32,227.00 101.83,230.67 102.50,233.00 C103.17,235.33 104.08,237.50 105.00,239.00 C105.92,240.50 107.00,241.27 108.00,242.00 C109.00,242.73 110.50,243.17 111.00,243.40" fill="none" stroke="#9090d0" stroke-width="0.9" stroke-linejoin="round" stroke-linecap="round"/>
<line x1="92.40" y1="241.90" x2="92.40" y2="249.20" stroke="#1a1a1a" stroke-width="1.2"/>
<line x1="91.90" y1="248.90" x2="97.70" y2="248.90" stroke="#1a1a1a" stroke-width="1.2"/>
<g transform="translate(77.80,246.9) scale(0.9538,1)" fill="#2a2a2a" stroke="#2a2a2a" stroke-width="0.2"><text x="0.00 3.67 7.34" y="0" font-size="6.6"> 0%</text><path transform="translate(0.00,0) scale(0.00322,-0.00310)" d="M763,0 L583,0 L583,1147 C540,1105 480,1062 412,1023 C345,983 282,952 222,930 L222,1104 C322,1151 410,1208 486,1276 C561,1343 615,1409 646,1472 L763,1472 Z"/></g>
<g transform="translate(89.40,255.9) scale(0.9151,1)" fill="#2a2a2a" stroke="#2a2a2a" stroke-width="0.2"><text x="0.00 3.00 4.08 8.58 9.78" y="0" font-size="5.4">  min</text><path transform="translate(0.00,0) scale(0.00264,-0.00254)" d="M763,0 L583,0 L583,1147 C540,1105 480,1062 412,1023 C345,983 282,952 222,930 L222,1104 C322,1151 410,1208 486,1276 C561,1343 615,1409 646,1472 L763,1472 Z"/></g>
<line x1="208.70" y1="210.00" x2="208.70" y2="242.80" stroke="#e6e6ec" stroke-width="0.7"/>
<line x1="210.00" y1="209.30" x2="210.00" y2="212.50" stroke="#9a9aa0" stroke-width="0.7"/>
<path d="M209.00,213.50 C209.67,213.42 211.67,213.33 213.00,213.00 C214.33,212.67 215.72,211.88 217.00,211.50 C218.28,211.12 219.20,210.70 220.70,210.70 C222.20,210.70 224.53,211.22 226.00,211.50 C227.47,211.78 228.92,212.25 229.50,212.40" fill="none" stroke="#88888e" stroke-width="1.0" stroke-linejoin="round" stroke-linecap="round"/>
<line x1="209.00" y1="213.50" x2="213.00" y2="213.00" stroke="#7c7c80" stroke-width="1.3"/>
<path d="M220.70,210.90 C221.08,211.58 222.28,213.73 223.00,215.00 C223.72,216.27 224.15,217.68 225.00,218.50 C225.85,219.32 227.58,219.67 228.10,219.90" fill="none" stroke="#a0a0a6" stroke-width="0.9" stroke-linejoin="round" stroke-linecap="round"/>
<path d="M220.50,211.50 C220.75,212.92 221.42,217.25 222.00,220.00 C222.58,222.75 223.33,225.92 224.00,228.00 C224.67,230.08 225.17,231.38 226.00,232.50 C226.83,233.62 228.50,234.33 229.00,234.70" fill="none" stroke="#a4a4cc" stroke-width="0.9" stroke-linejoin="round" stroke-linecap="round"/>
<line x1="350.50" y1="210.00" x2="350.50" y2="250.00" stroke="#e6e6ec" stroke-width="0.7"/>
<circle cx="351.5" cy="214.6" r="1.0" fill="#686870"/>
<path d="M351.40,214.80 C351.82,214.08 352.97,210.80 353.90,210.50 C354.83,210.20 355.98,211.92 357.00,213.00 C358.02,214.08 358.98,215.73 360.00,217.00 C361.02,218.27 362.10,220.18 363.10,220.60 C364.10,221.02 364.58,219.73 366.00,219.50 C367.42,219.27 370.67,219.25 371.60,219.20" fill="none" stroke="#8a8a94" stroke-width="0.9" stroke-linejoin="round" stroke-linecap="round"/>
<path d="M354.20,211.00 C354.67,212.50 356.20,217.00 357.00,220.00 C357.80,223.00 358.17,226.33 359.00,229.00 C359.83,231.67 360.85,234.17 362.00,236.00 C363.15,237.83 364.90,239.58 365.90,240.00 C366.90,240.42 366.95,239.00 368.00,238.50 C369.05,238.00 371.50,237.25 372.20,237.00" fill="none" stroke="#9696a0" stroke-width="0.9" stroke-linejoin="round" stroke-linecap="round"/>
<path d="M354.40,211.50 C354.83,213.75 356.15,220.92 357.00,225.00 C357.85,229.08 358.50,233.00 359.50,236.00 C360.50,239.00 361.58,241.08 363.00,243.00 C364.42,244.92 366.15,246.32 368.00,247.50 C369.85,248.68 373.08,249.67 374.10,250.10" fill="none" stroke="#8c8cc0" stroke-width="0.9" stroke-linejoin="round" stroke-linecap="round"/>
<line x1="490.00" y1="209.00" x2="490.00" y2="247.60" stroke="#e6e6ec" stroke-width="0.7"/>
<path d="M491.00,215.90 C491.25,215.25 491.95,213.12 492.50,212.00 C493.05,210.88 493.80,209.20 494.30,209.20 C494.80,209.20 495.05,210.70 495.50,212.00 C495.95,213.30 496.48,215.32 497.00,217.00 C497.52,218.68 498.10,220.77 498.60,222.10 C499.10,223.43 499.25,224.18 500.00,225.00 C500.75,225.82 501.93,226.75 503.10,227.00 C504.27,227.25 505.40,227.18 507.00,226.50 C508.60,225.82 511.75,223.50 512.70,222.90" fill="none" stroke="#86868f" stroke-width="1.0" stroke-linejoin="round" stroke-linecap="round"/>
<path d="M497.50,219.00 C497.83,219.83 498.83,222.50 499.50,224.00 C500.17,225.50 500.58,226.92 501.50,228.00 C502.42,229.08 503.75,230.12 505.00,230.50 C506.25,230.88 507.83,230.52 509.00,230.30 C510.17,230.08 511.50,229.38 512.00,229.20" fill="none" stroke="#96969f" stroke-width="0.9" stroke-linejoin="round" stroke-linecap="round"/>
<path d="M497.80,220.00 C498.08,220.92 498.80,223.67 499.50,225.50 C500.20,227.33 500.92,229.42 502.00,231.00 C503.08,232.58 504.67,234.25 506.00,235.00 C507.33,235.75 509.00,235.38 510.00,235.50 C511.00,235.62 511.67,235.67 512.00,235.70" fill="none" stroke="#8888c4" stroke-width="0.9" stroke-linejoin="round" stroke-linecap="round"/>
<circle cx="491.0" cy="215.9" r="0.9" fill="#686870"/>
</g></svg>
<div class="frame"></div>
</body></html>
